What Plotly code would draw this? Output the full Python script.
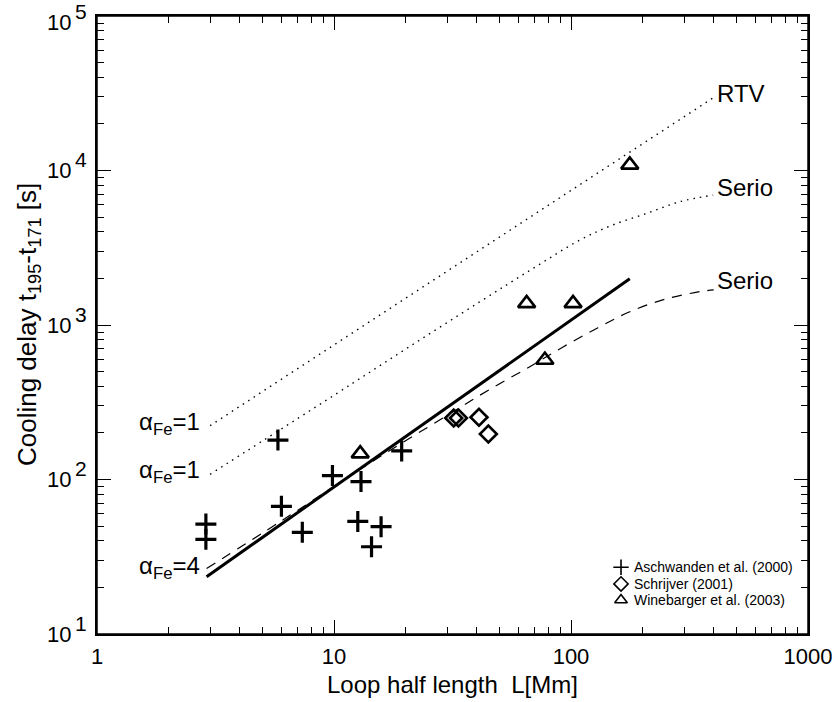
import numpy as np
import plotly.graph_objects as go

# ---- data ----
asch_L = [2.88, 2.88, 5.8, 6.0, 7.35, 9.85, 13.0, 12.6, 15.8, 14.4, 19.3]
asch_t = [51.5, 41.0, 180, 67, 45.5, 106, 97, 53.5, 49.5, 36.7, 153]

schr_L = [32.0, 33.5, 40.9, 44.8]
schr_t = [250, 250, 253, 197]

wine_L = [12.9, 65.0, 102, 77.6, 177]
wine_t = [147, 1380, 1380, 593, 10870]

fit_L = [2.9, 177]
fit_t = [23.5, 1990]

rtv_L = [3.0, 400]
rtv_t = [223, 29700]

serio1_L = [3.0, 10, 20, 41.3, 70, 109, 150, 209, 288, 398]
serio1_t = [108, 351, 696, 1416, 2350, 3548, 4440, 5284, 6284, 6930]

serio4_L = [2.9, 6, 14.2, 30, 45, 67, 93, 130, 177, 250, 350, 400]
serio4_t = [26.5, 54, 128, 260, 380, 537, 724, 960, 1219, 1470, 1644, 1690]

legend_names = ["Aschwanden et al. (2000)", "Schrijver (2001)", "Winebarger et al. (2003)"]
legend_symbols = ["cross-thin-open", "diamond-open", "triangle-up-open"]

x_tickvals = [1, 10, 100, 1000]
x_ticktext = ["1", "10", "100", "1000"]
y_exponents = [1, 2, 3, 4, 5]
y_tickvals = [10 ** k for k in y_exponents]

x_minor = [m * 10 ** d for d in range(0, 3) for m in range(2, 10)]
y_minor = [m * 10 ** d for d in range(1, 5) for m in range(2, 10)]

FONT = "Liberation Sans"

fig = go.Figure()

fig.add_trace(go.Scatter(x=rtv_L, y=rtv_t, mode="lines",
                         line=dict(color="black", width=1.4, dash="1.5px,5px"), showlegend=False))
fig.add_trace(go.Scatter(x=serio1_L, y=serio1_t, mode="lines", line_shape="spline",
                         line=dict(color="black", width=1.4, dash="1.5px,5px"), showlegend=False))
fig.add_trace(go.Scatter(x=serio4_L, y=serio4_t, mode="lines", line_shape="spline",
                         line=dict(color="black", width=1.2, dash="10px,8px"), showlegend=False))
fig.add_trace(go.Scatter(x=fit_L, y=fit_t, mode="lines",
                         line=dict(color="black", width=3), showlegend=False))

fig.add_trace(go.Scatter(x=asch_L, y=asch_t, mode="markers",
                         marker=dict(symbol="cross-thin-open", size=15, color="black",
                                     line=dict(color="black", width=3.2)),
                         showlegend=False))
fig.add_trace(go.Scatter(x=schr_L, y=schr_t, mode="markers",
                         marker=dict(symbol="diamond-open", size=13, color="black",
                                     line=dict(color="black", width=2.6)),
                         showlegend=False))
fig.add_trace(go.Scatter(x=wine_L, y=wine_t, mode="markers",
                         marker=dict(symbol="triangle-up-open", size=15, color="black",
                                     line=dict(color="black", width=2.6)),
                         showlegend=False))

# legend drawn on an overlay axis (0..1)
leg_y = [0.108, 0.081, 0.055]
for i, (name, sym) in enumerate(zip(legend_names, legend_symbols)):
    fig.add_trace(go.Scatter(x=[0.737], y=[leg_y[i]], xaxis="x2", yaxis="y2", mode="markers",
                             marker=dict(symbol=sym, size=11, color="black",
                                         line=dict(color="black", width=1.6)),
                             showlegend=False, hoverinfo="skip"))
    fig.add_annotation(x=0.752, y=leg_y[i], xref="paper", yref="paper", text=name,
                       showarrow=False, xanchor="left", yanchor="middle",
                       font=dict(family=FONT, size=14, color="black"))

labels = [("RTV", 0.869, 0.875), ("Serio", 0.869, 0.723), ("Serio", 0.869, 0.5725)]
for txt, px, py in labels:
    fig.add_annotation(x=px, y=py, xref="paper", yref="paper", text=txt, showarrow=False,
                       xanchor="left", yanchor="middle",
                       font=dict(family=FONT, size=24, color="black"))

alpha_labels = [("α<sub>Fe</sub>=1", 0.341), ("α<sub>Fe</sub>=1", 0.2636), ("α<sub>Fe</sub>=4", 0.108)]
for txt, py in alpha_labels:
    fig.add_annotation(x=0.147, y=py, xref="paper", yref="paper", text=txt, showarrow=False,
                       xanchor="right", yanchor="middle",
                       font=dict(family=FONT, size=24, color="black"))

# y tick labels in IDL style: full-size exponent raised above "10"
for k in y_exponents:
    shift = -6 if k == max(y_exponents) else 0
    fig.add_annotation(x=-0.0335, y=k, xref="paper", yref="y", text="10", showarrow=False,
                       xanchor="right", yanchor="middle", yshift=shift,
                       font=dict(family=FONT, size=22, color="black"))
    fig.add_annotation(x=-0.0335, y=k, xref="paper", yref="y", text=str(k), showarrow=False,
                       xanchor="left", yanchor="middle", yshift=11 + shift,
                       font=dict(family=FONT, size=21, color="black"))

# axis titles
fig.add_annotation(x=0.5, y=-0.081, xref="paper", yref="paper", text="Loop half length  L[Mm]",
                   showarrow=False, xanchor="center", yanchor="middle",
                   font=dict(family=FONT, size=24, color="black"))
fig.add_annotation(x=-0.097, y=0.50, xref="paper", yref="paper",
                   text="Cooling delay t<sub>195</sub>-t<sub>171</sub> [s]",
                   showarrow=False, xanchor="center", yanchor="middle", textangle=-90,
                   font=dict(family=FONT, size=26, color="black"))

# plot frame
fig.add_shape(type="rect", xref="paper", yref="paper", x0=0, x1=1, y0=0, y1=1,
              line=dict(color="black", width=1.5), layer="above")

axis_common = dict(showgrid=False, zeroline=False, showline=True, linecolor="black",
                   linewidth=1.5, mirror="ticks", ticks="inside", ticklen=14,
                   tickwidth=1.2, tickcolor="black", automargin=False,
                   tickfont=dict(family=FONT, size=22, color="black"))

fig.update_layout(
    width=838, height=702,
    paper_bgcolor="white", plot_bgcolor="white",
    margin=dict(l=97, r=30, t=16, b=68, autoexpand=False),
    font=dict(family=FONT, color="black"),
    xaxis=dict(type="log", range=[0, 3], tickvals=x_tickvals, ticktext=x_ticktext,
               minor=dict(tickvals=x_minor, ticks="inside", ticklen=7, tickwidth=1.2,
                          tickcolor="black", showgrid=False),
               ticklabelstandoff=2,
               **axis_common),
    yaxis=dict(type="log", range=[1, 5], tickvals=y_tickvals, showticklabels=False,
               minor=dict(tickvals=y_minor, ticks="inside", ticklen=7, tickwidth=1.2,
                          tickcolor="black", showgrid=False),
               **axis_common),
    xaxis2=dict(overlaying="x", range=[0, 1], visible=False),
    yaxis2=dict(overlaying="y", range=[0, 1], visible=False),
)

fig.write_html("out.html", config={"displayModeBar": False},
               post_script="document.body.style.margin='0px';")
